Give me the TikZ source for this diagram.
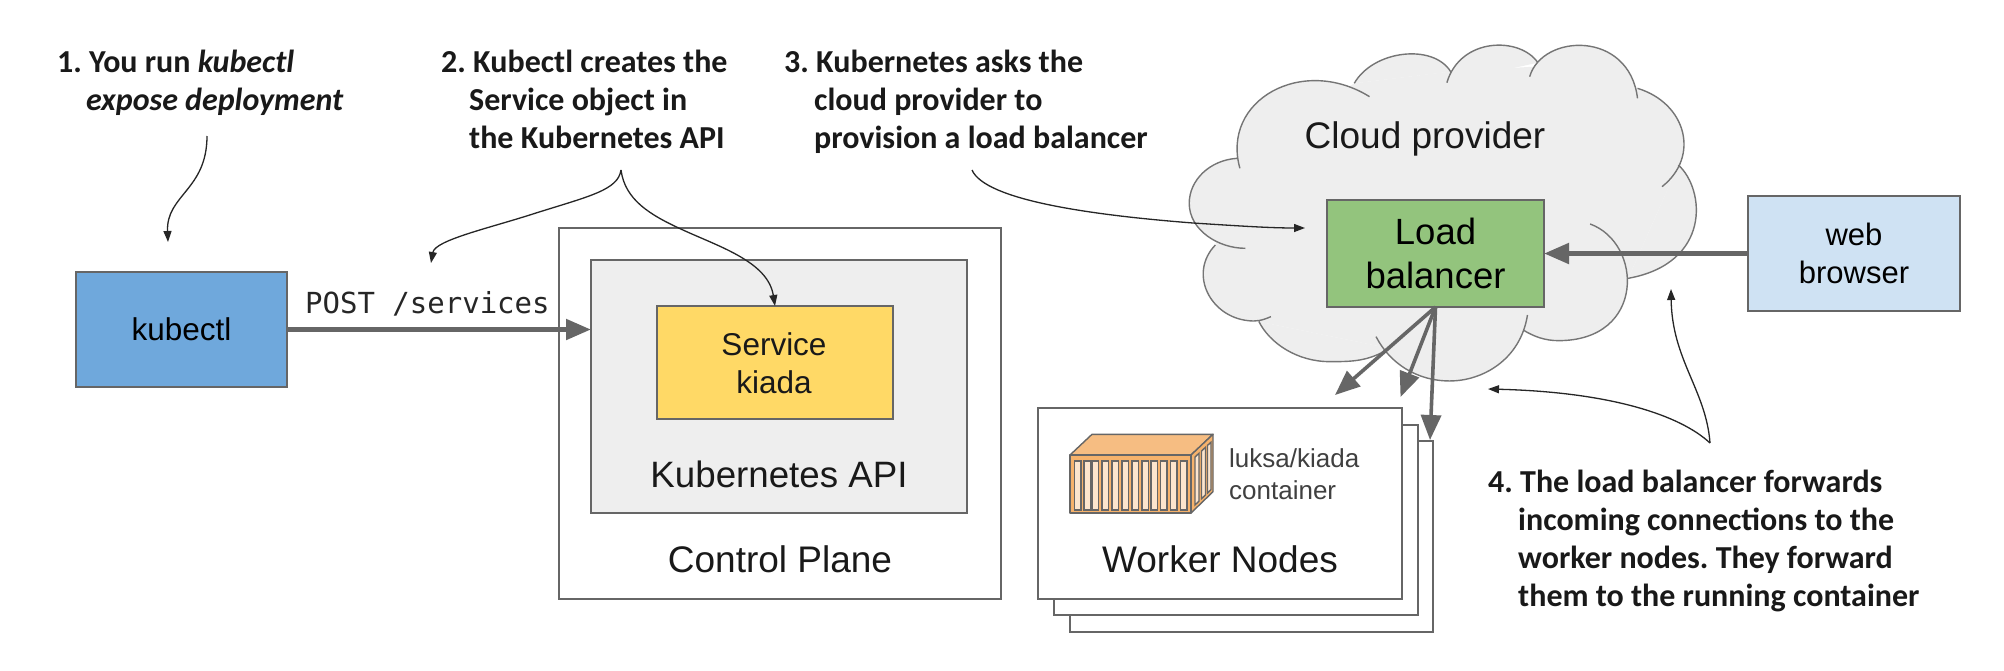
\documentclass[tikz,border=0pt]{standalone}
\usepackage{fontspec}
\usetikzlibrary{arrows.meta}
\setmainfont{Liberation Sans}
\setmonofont{DejaVu Sans Mono}
\newfontfamily\annotfont{Carlito}
\definecolor{linegray}{HTML}{666666}
\definecolor{cloudgray}{HTML}{EEEEEE}
\definecolor{kubeblue}{HTML}{6FA8DC}
\definecolor{lbgreen}{HTML}{93C47D}
\definecolor{webblue}{HTML}{CFE2F3}
\definecolor{svcyellow}{HTML}{FFD966}
\definecolor{boxorange}{HTML}{F6B26B}
\definecolor{lidorange}{HTML}{F6BD82}
\definecolor{slatcream}{HTML}{FCE5CD}
\newcommand{\cloudlobes}{
  (165,505) .. controls (130,300) and (280,165) .. (403,290)
  (375,250) .. controls (410,150) and (520,130) .. (552,215)
  (545,248) .. controls (570,110) and (680,110) .. (712,188)
  (697,230) .. controls (720,100) and (880,90) .. (895,295)
  (895,265) .. controls (985,310) and (1010,470) .. (940,560)
  (970,495) .. controls (1020,570) and (1030,790) .. (878,835)
  (808,672) .. controls (905,730) and (910,1022) .. (750,1022) .. controls (725,1022) and (705,1010) .. (685,990)
  (693,945) .. controls (680,1080) and (610,1143) .. (550,1143) .. controls (490,1143) and (440,1090) .. (415,1010)
  (440,1045) .. controls (400,1085) and (370,1085) .. (330,1085) .. controls (270,1085) and (220,1030) .. (200,965)
  (222,950) .. controls (205,962) and (195,965) .. (180,962) .. controls (110,950) and (70,820) .. (120,735)
  (175,745) .. controls (125,745) and (72,690) .. (72,610) .. controls (72,540) and (110,480) .. (160,475)
}
\tikzset{
  box/.style={draw=linegray,line width=1.6pt,inner sep=0pt,outer sep=0pt,align=center,rectangle},
  sans/.style={font=\fontsize{#1}{38}\selectfont,inner sep=0pt,anchor=base,align=center,text=black!90},
  note/.style={font=\annotfont\bfseries\fontsize{32}{38}\selectfont\frenchspacing,inner sep=0pt,anchor=base west,align=left,text=black!90},
  thickarrow/.style={draw=linegray,line width=#1,-{Triangle[length=25pt,width=20pt,fill=linegray]}},
  thinarrow/.style={draw=black!85,line width=1.3pt,-{Triangle[length=11pt,width=8pt]}},
}
\begin{document}
\begin{tikzpicture}[x=1pt,y=-1pt]
\useasboundingbox[fill=white] (0,0) rectangle (2004,670);

% cloud
\begin{scope}[shift={(1150,0)},x=0.5447pt,y=-0.3333pt]
  \fill[cloudgray] (160,475) -- (375,250) -- (550,215) -- (705,200) -- (895,265) -- (970,495) -- (878,835) -- (690,990) -- (440,1045) -- (200,965) -- (120,735) -- cycle;
  \fill[cloudgray] \cloudlobes;
  \draw[linegray!90,line width=1.4pt] \cloudlobes;
\end{scope}
\node[sans=37] (cloudlabel) at (1425,148) {Cloud provider};

% boxes
\node[box,fill=kubeblue,minimum width=211pt,minimum height=115pt,font=\fontsize{31.5}{38}\selectfont] (kubectl) at (181.5,329.5) {kubectl};
\node[box,fill=white,minimum width=442pt,minimum height=371pt] (ctrl) at (780,413.5) {};
\node[box,fill=cloudgray,minimum width=376pt,minimum height=253pt] (api) at (779,386.5) {};
\node[box,fill=svcyellow,minimum width=236pt,minimum height=113pt] (service) at (775,362.5) {};
\node[sans=31.5] (servicelabel) at (774,393) {Service\\kiada};
\node[sans=36.7] (apilabel) at (779,487) {Kubernetes API};
\node[sans=37] (ctrllabel) at (780,572) {Control Plane};

\node[box,fill=white,minimum width=363pt,minimum height=191pt] (wback) at (1251.5,536.5) {};
\node[box,fill=white,minimum width=364pt,minimum height=190pt] (wmid) at (1236,520) {};
\node[box,fill=white,minimum width=364pt,minimum height=191pt] (wfront) at (1220,503.5) {};
\node[sans=37] (wlabel) at (1220,572) {Worker Nodes};
\node[font=\fontsize{26}{32}\selectfont,inner sep=0pt,anchor=base west,align=left,text=black!75] (clabel) at (1229,499) {luksa/kiada\\container};

% container
\filldraw[draw=linegray,line width=1.4pt,fill=lidorange,line join=round] (1070,455) -- (1092,434.3) -- (1213,434.3) -- (1191,455) -- cycle;
\filldraw[draw=linegray,line width=1.4pt,fill=boxorange,line join=round] (1191,455) -- (1213,434.3) -- (1213,491.7) -- (1191,513) -- cycle;
\filldraw[draw=linegray,line width=1.4pt,fill=boxorange,line join=round] (1070,455) rectangle (1191,513);
\foreach \sx in {1077.7,1087.3,1095.3,1105.3,1115.3,1125.3,1135.3,1145.3,1154,1163.7,1173.7,1183.7}
  \filldraw[draw=linegray,line width=1.4pt,fill=slatcream] (\sx-3.2,461) rectangle (\sx+3.2,510);
\filldraw[draw=linegray,line width=1.4pt,fill=slatcream] (1195,457) -- (1199,453.3) -- (1199,501.1) -- (1195,504.9) -- cycle;
\filldraw[draw=linegray,line width=1.4pt,fill=slatcream] (1201.5,451) -- (1205.5,447.3) -- (1205.5,494.9) -- (1201.5,498.7) -- cycle;
\filldraw[draw=linegray,line width=1.4pt,fill=slatcream] (1207.5,445.4) -- (1211,442.2) -- (1211,489.6) -- (1207.5,493) -- cycle;

\node[box,fill=lbgreen,minimum width=217pt,minimum height=107pt,font=\fontsize{36.5}{43.5}\selectfont] (lb) at (1435.5,253.5) {Load\\balancer};
\node[box,fill=webblue,minimum width=212pt,minimum height=115pt,font=\fontsize{31}{37.5}\selectfont] (web) at (1854,253.5) {web\\browser};

% thick connectors
\node[font=\ttfamily\fontsize{29}{34}\selectfont,inner sep=0pt,anchor=base west,text=black!85] (post) at (305,313) {POST /services};
\draw[thickarrow=5pt] (kubectl.east) -- (kubectl.east -| api.west);
\draw[thickarrow=5pt] (web.west) -- (lb.east);
\coordinate (lbone) at (1335,395);
\coordinate (lbtwo) at (1400.5,397);
\coordinate (lbthree) at (1430,440);
\draw[thickarrow=3.6pt] (lb.south) -- (lbone);
\draw[thickarrow=3.6pt] (lb.south) -- (lbtwo);
\draw[thickarrow=3.6pt] (lb.south) -- (lbthree);

% annotations
\node[note] (noteone) at (57,110) {1. You run \textit{kubectl}\\\hspace*{29pt}\textit{expose deployment}};
\node[note] (notetwo) at (441,148) {2. Kubectl creates the\\\hspace*{28pt}Service object in\\\hspace*{28pt}the Kubernetes API};
\node[note] (notethree) at (784,148) {3. Kubernetes asks the\\\hspace*{30pt}cloud provider to\\\hspace*{30pt}provision a load balancer};
\node[note] (notefour) at (1488,606) {4. The load balancer forwards\\\hspace*{30pt}incoming connections to the\\\hspace*{30pt}worker nodes. They forward\\\hspace*{30pt}them to the running container};

% thin curved arrows
\coordinate (oneS) at (207,136);
\coordinate (oneE) at (168,242);
\draw[thinarrow] (oneS) .. controls (207,190) and (166,195) .. (oneE);
\coordinate (twoS) at (621,170);
\coordinate (twoM) at (431,263);
\draw[thinarrow] (twoS) .. controls (618,190) and (590,196) .. (536,213) .. controls (490,228) and (435,240) .. (twoM);
\draw[thinarrow] (twoS) .. controls (625,200) and (650,215) .. (683,230) .. controls (720,247) and (768,262) .. (service.north);
\coordinate (threeS) at (972,170);
\coordinate (threeE) at (1305,228);
\draw[thinarrow] (threeS) .. controls (985,200) and (1090,215) .. (1193,223) .. controls (1240,226) and (1270,228) .. (threeE);
\coordinate (fourS) at (1710,443);
\coordinate (fourA) at (1671,289);
\coordinate (fourB) at (1488,389);
\draw[thinarrow] (fourS) .. controls (1706,390) and (1672,360) .. (fourA);
\draw[thinarrow] (fourS) .. controls (1680,415) and (1610,392) .. (fourB);
\end{tikzpicture}
\end{document}
